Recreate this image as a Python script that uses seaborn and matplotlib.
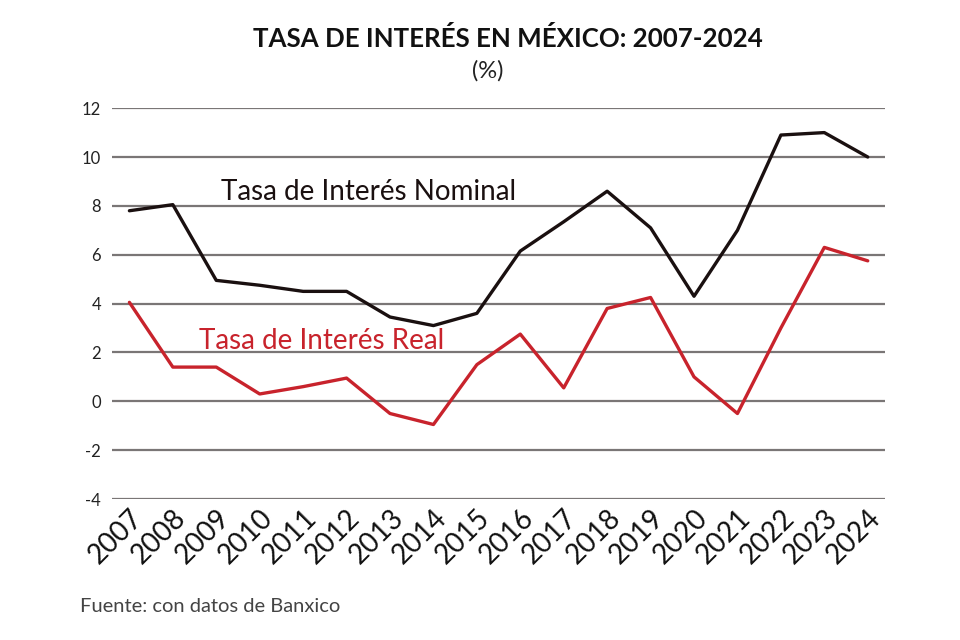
import matplotlib
matplotlib.use("Agg")
import matplotlib.pyplot as plt
import seaborn as sns
import pandas as pd

years = list(range(2007, 2025))
nominal = [7.8, 8.05, 4.95, 4.75, 4.5, 4.5, 3.45, 3.1, 3.6, 6.15, 7.35, 8.6, 7.1, 4.3, 7.0, 10.9, 11.0, 10.0]
real = [4.05, 1.4, 1.4, 0.3, 0.6, 0.95, -0.5, -0.95, 1.5, 2.75, 0.55, 3.8, 4.25, 1.0, -0.5, 3.0, 6.3, 5.75]
series_names = ["Tasa de Interés Nominal", "Tasa de Interés Real"]
y_ticks = [-4, -2, 0, 2, 4, 6, 8, 10, 12]

df = pd.DataFrame({
    "year": years * 2,
    "value": nominal + real,
    "series": [series_names[0]] * len(years) + [series_names[1]] * len(years),
})

sns.set_theme(style="white")
plt.rcParams["font.family"] = ["Lato", "DejaVu Sans"]

W = 400

fig = plt.figure(figsize=(9.6, 6.4), dpi=100)
ax = fig.add_axes([0.1167, 0.2203, 0.8053, 0.6107])

for y in y_ticks:
    ax.axhline(y, color="#7a7676", lw=1.6, zorder=1)

sns.lineplot(data=df, x="year", y="value", hue="series",
             palette={series_names[0]: "#1a1010", series_names[1]: "#c8232c"},
             linewidth=2.4, legend=False, ax=ax, zorder=3)

ax.set_xlim(2006.6, 2024.4)
ax.set_ylim(-4, 12)
ax.set_yticks(y_ticks)
ax.set_yticklabels([str(v) for v in y_ticks], fontsize=12, color="#222222", fontweight=W)
ax.set_xticks(years)
ax.set_xticklabels([str(y) for y in years], fontsize=20, rotation=45,
                   ha="right", va="top", rotation_mode="anchor", color="#111111",
                   fontweight=W)
ax.tick_params(axis="both", length=0)
ax.tick_params(axis="y", pad=8)
ax.tick_params(axis="x", pad=4)
ax.set_xlabel("")
ax.set_ylabel("")
for s in ax.spines.values():
    s.set_visible(False)

ax.text(2009.1, 8.05, series_names[0], fontsize=20, color="#1a1010",
        ha="left", va="bottom", zorder=4, fontweight=W)
ax.text(2008.6, 1.95, series_names[1], fontsize=20, color="#c8232c",
        ha="left", va="bottom", zorder=4, fontweight=W)

fig.text(0.529, 0.94, "TASA DE INTERÉS EN MÉXICO: 2007-2024", ha="center", va="center",
         fontsize=18.6, fontweight="bold", color="#111111")
fig.text(0.508, 0.889, "(%)", ha="center", va="center", fontsize=17, color="#222222",
         fontweight=W)
fig.text(0.083, 0.053, "Fuente: con datos de Banxico", ha="left", va="center",
         fontsize=14.5, color="#444444", fontweight=W)

fig.savefig("out.png", dpi=100)
